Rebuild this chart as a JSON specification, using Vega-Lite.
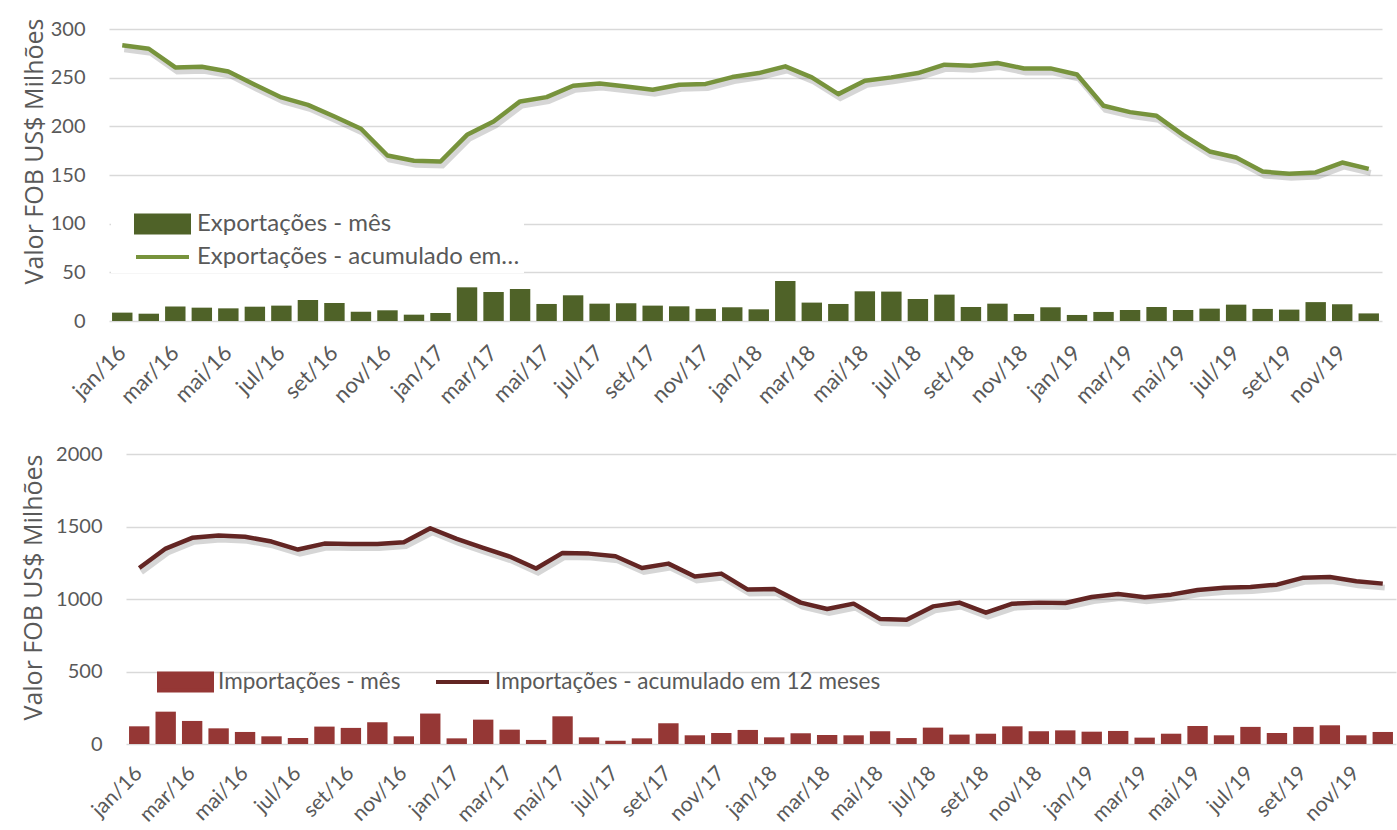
{
  "$schema": "https://vega.github.io/schema/vega-lite/v6.json",
  "padding": {"left": 21, "top": 14, "right": 0, "bottom": 0},
  "background": "white",
  "config": {
    "view": {"stroke": null},
    "font": "Lato",
    "axis": {"labelColor": "#595959", "titleColor": "#595959", "labelFont": "Lato", "labelFontSize": 20, "gridColor": "#d9d9d9", "gridWidth": 1.5, "domain": false, "ticks": false},
    "legend": {"labelFont": "Lato", "labelColor": "#595959"}
  },
  "data": {"values": [
    {"mes": "jan/16", "exp_mes": 8.6, "exp_acum": 283.2, "imp_mes": 122, "imp_acum": 1214},
    {"mes": "fev/16", "exp_mes": 7.5, "exp_acum": 279.7, "imp_mes": 223, "imp_acum": 1348},
    {"mes": "mar/16", "exp_mes": 15, "exp_acum": 260.5, "imp_mes": 159, "imp_acum": 1422},
    {"mes": "abr/16", "exp_mes": 13.7, "exp_acum": 261.2, "imp_mes": 108, "imp_acum": 1438},
    {"mes": "mai/16", "exp_mes": 13, "exp_acum": 256.4, "imp_mes": 83, "imp_acum": 1429},
    {"mes": "jun/16", "exp_mes": 14.7, "exp_acum": 242.7, "imp_mes": 53, "imp_acum": 1396},
    {"mes": "jul/16", "exp_mes": 15.8, "exp_acum": 229.7, "imp_mes": 41, "imp_acum": 1341},
    {"mes": "ago/16", "exp_mes": 21.6, "exp_acum": 222.1, "imp_mes": 120, "imp_acum": 1382},
    {"mes": "set/16", "exp_mes": 18.5, "exp_acum": 210.1, "imp_mes": 111, "imp_acum": 1380},
    {"mes": "out/16", "exp_mes": 9.6, "exp_acum": 197.5, "imp_mes": 150, "imp_acum": 1380},
    {"mes": "nov/16", "exp_mes": 11, "exp_acum": 170, "imp_mes": 53, "imp_acum": 1392},
    {"mes": "dez/16", "exp_mes": 6.5, "exp_acum": 164.6, "imp_mes": 210, "imp_acum": 1488},
    {"mes": "jan/17", "exp_mes": 8.2, "exp_acum": 163.9, "imp_mes": 39, "imp_acum": 1415},
    {"mes": "fev/17", "exp_mes": 34.6, "exp_acum": 191.3, "imp_mes": 168, "imp_acum": 1353},
    {"mes": "mar/17", "exp_mes": 29.8, "exp_acum": 205, "imp_mes": 99, "imp_acum": 1293},
    {"mes": "abr/17", "exp_mes": 32.9, "exp_acum": 225.6, "imp_mes": 28, "imp_acum": 1210},
    {"mes": "mai/17", "exp_mes": 17.5, "exp_acum": 230, "imp_mes": 191, "imp_acum": 1318},
    {"mes": "jun/17", "exp_mes": 26.4, "exp_acum": 241.7, "imp_mes": 46, "imp_acum": 1313},
    {"mes": "jul/17", "exp_mes": 17.8, "exp_acum": 244, "imp_mes": 23, "imp_acum": 1295},
    {"mes": "ago/17", "exp_mes": 18.2, "exp_acum": 241, "imp_mes": 39, "imp_acum": 1214},
    {"mes": "set/17", "exp_mes": 15.8, "exp_acum": 237.6, "imp_mes": 143, "imp_acum": 1244},
    {"mes": "out/17", "exp_mes": 15.1, "exp_acum": 242.7, "imp_mes": 60, "imp_acum": 1155},
    {"mes": "nov/17", "exp_mes": 12.5, "exp_acum": 243.6, "imp_mes": 76, "imp_acum": 1175},
    {"mes": "dez/17", "exp_mes": 14.1, "exp_acum": 250.6, "imp_mes": 97, "imp_acum": 1065},
    {"mes": "jan/18", "exp_mes": 12, "exp_acum": 254.7, "imp_mes": 46, "imp_acum": 1069},
    {"mes": "fev/18", "exp_mes": 41.1, "exp_acum": 261.6, "imp_mes": 74, "imp_acum": 975},
    {"mes": "mar/18", "exp_mes": 18.9, "exp_acum": 250.3, "imp_mes": 62, "imp_acum": 931},
    {"mes": "abr/18", "exp_mes": 17.5, "exp_acum": 233.1, "imp_mes": 60, "imp_acum": 968},
    {"mes": "mai/18", "exp_mes": 30.5, "exp_acum": 246.8, "imp_mes": 88, "imp_acum": 862},
    {"mes": "jun/18", "exp_mes": 30.2, "exp_acum": 250.3, "imp_mes": 41, "imp_acum": 857},
    {"mes": "jul/18", "exp_mes": 22.6, "exp_acum": 254.7, "imp_mes": 113, "imp_acum": 949},
    {"mes": "ago/18", "exp_mes": 27.1, "exp_acum": 263.3, "imp_mes": 65, "imp_acum": 975},
    {"mes": "set/18", "exp_mes": 14.4, "exp_acum": 262.3, "imp_mes": 71, "imp_acum": 906},
    {"mes": "out/18", "exp_mes": 17.8, "exp_acum": 265, "imp_mes": 122, "imp_acum": 968},
    {"mes": "nov/18", "exp_mes": 7.2, "exp_acum": 259.5, "imp_mes": 88, "imp_acum": 975},
    {"mes": "dez/18", "exp_mes": 14.1, "exp_acum": 259.5, "imp_mes": 94, "imp_acum": 972},
    {"mes": "jan/19", "exp_mes": 6.2, "exp_acum": 253.3, "imp_mes": 85, "imp_acum": 1014},
    {"mes": "fev/19", "exp_mes": 9.3, "exp_acum": 221.1, "imp_mes": 90, "imp_acum": 1035},
    {"mes": "mar/19", "exp_mes": 11.3, "exp_acum": 214.6, "imp_mes": 44, "imp_acum": 1012},
    {"mes": "abr/19", "exp_mes": 14.4, "exp_acum": 210.8, "imp_mes": 71, "imp_acum": 1030},
    {"mes": "mai/19", "exp_mes": 11.3, "exp_acum": 191.3, "imp_mes": 124, "imp_acum": 1062},
    {"mes": "jun/19", "exp_mes": 12.7, "exp_acum": 174.2, "imp_mes": 60, "imp_acum": 1078},
    {"mes": "jul/19", "exp_mes": 16.8, "exp_acum": 168, "imp_mes": 118, "imp_acum": 1083},
    {"mes": "ago/19", "exp_mes": 12.4, "exp_acum": 153.6, "imp_mes": 76, "imp_acum": 1099},
    {"mes": "set/19", "exp_mes": 11.7, "exp_acum": 151.2, "imp_mes": 118, "imp_acum": 1147},
    {"mes": "out/19", "exp_mes": 19.4, "exp_acum": 152.6, "imp_mes": 129, "imp_acum": 1152},
    {"mes": "nov/19", "exp_mes": 17.2, "exp_acum": 162.8, "imp_mes": 60, "imp_acum": 1122},
    {"mes": "dez/19", "exp_mes": 7.8, "exp_acum": 156.3, "imp_mes": 83, "imp_acum": 1106}
  ]},
  "columns": 1,
  "spacing": 133,
  "bounds": "flush",
  "resolve": {"scale": {"x": "independent", "y": "independent", "color": "independent"}, "legend": {"color": "independent"}},
  "concat": [
    {
      "width": 1273,
      "height": 292,
      "layer": [
        {
          "mark": {"type": "line", "color": "#000000", "opacity": 0.16, "strokeWidth": 6, "xOffset": 2, "yOffset": 4},
          "encoding": {
            "x": {"field": "mes", "type": "nominal", "sort": null},
            "y": {"field": "exp_acum", "type": "quantitative"}
          }
        },
        {
          "mark": {"type": "line", "strokeWidth": 4.5, "strokeJoin": "round"},
          "encoding": {
            "x": {"field": "mes", "type": "nominal", "sort": null},
            "y": {"field": "exp_acum", "type": "quantitative"},
            "color": {"datum": "Exportações - acumulado em 12 meses"}
          }
        },
        {
          "mark": {"type": "bar"},
          "encoding": {
            "x": {
              "field": "mes", "type": "nominal", "sort": null,
              "scale": {"paddingInner": 0.23, "paddingOuter": 0.115},
              "axis": {
                "title": null,
                "values": ["jan/16","mar/16","mai/16","jul/16","set/16","nov/16","jan/17","mar/17","mai/17","jul/17","set/17","nov/17","jan/18","mar/18","mai/18","jul/18","set/18","nov/18","jan/19","mar/19","mai/19","jul/19","set/19","nov/19"],
                "labelAngle": -45, "labelAlign": "right", "labelBaseline": "middle", "labelPadding": 28, "labelFontSize": 22, "grid": false
              }
            },
            "y": {
              "field": "exp_mes", "type": "quantitative",
              "scale": {"domain": [0, 300], "nice": false},
              "axis": {
                "title": "Valor FOB US$  Milhões", "titleFont": "Open Sans", "titleFontSize": 25, "titleFontWeight": "normal",
                "values": [0, 50, 100, 150, 200, 250, 300],
                "labelPadding": 24, "titlePadding": 3, "titleY": 122, "grid": true
              }
            },
            "color": {
              "datum": "Exportações - mês",
              "scale": {"domain": ["Exportações - mês", "Exportações - acumulado em 12 meses"], "range": ["#4f6228", "#77933c"]},
              "legend": {
                "title": null, "orient": "none", "legendX": 2, "legendY": 179, "direction": "vertical",
                "fillColor": "white", "padding": 4, "symbolOffset": 19, "clipHeight": 24,
                "labelFontSize": 24, "labelLimit": 325, "labelOffset": 6, "rowPadding": 9,
                "symbolSize": 2809, "symbolStrokeWidth": 4,
                "encode": {"symbols": {"update": {
                  "shape": {"signal": "datum.value === 'Exportações - mês' ? 'M-1,-0.32H1V0.32H-1Z' : 'stroke'"},
                  "fill": {"signal": "datum.value === 'Exportações - mês' ? '#4f6228' : 'transparent'"},
                  "stroke": {"signal": "datum.value === 'Exportações - mês' ? 'transparent' : '#77933c'"},
                  "strokeWidth": {"value": 4},
                  "opacity": {"value": 1}
                }}}
              }
            }
          }
        }
      ]
    },
    {
      "width": 1287,
      "height": 290,
      "layer": [
        {
          "mark": {"type": "line", "color": "#000000", "opacity": 0.16, "strokeWidth": 6, "xOffset": 2, "yOffset": 4},
          "encoding": {
            "x": {"field": "mes", "type": "nominal", "sort": null},
            "y": {"field": "imp_acum", "type": "quantitative"}
          }
        },
        {
          "mark": {"type": "line", "strokeWidth": 4.5, "strokeJoin": "round"},
          "encoding": {
            "x": {"field": "mes", "type": "nominal", "sort": null},
            "y": {"field": "imp_acum", "type": "quantitative"},
            "color": {"datum": "Importações - acumulado em 12 meses"}
          }
        },
        {
          "mark": {"type": "bar"},
          "encoding": {
            "x": {
              "field": "mes", "type": "nominal", "sort": null,
              "scale": {"paddingInner": 0.23, "paddingOuter": 0.115, "range": [17, 1287]},
              "axis": {
                "title": null,
                "values": ["jan/16","mar/16","mai/16","jul/16","set/16","nov/16","jan/17","mar/17","mai/17","jul/17","set/17","nov/17","jan/18","mar/18","mai/18","jul/18","set/18","nov/18","jan/19","mar/19","mai/19","jul/19","set/19","nov/19"],
                "labelAngle": -45, "labelAlign": "right", "labelBaseline": "middle", "labelPadding": 26, "labelFontSize": 21, "grid": false
              }
            },
            "y": {
              "field": "imp_mes", "type": "quantitative",
              "scale": {"domain": [0, 2000], "nice": false},
              "axis": {
                "title": "Valor FOB US$ Milhões", "titleFont": "Open Sans", "titleFontSize": 25, "titleFontWeight": "normal",
                "values": [0, 500, 1000, 1500, 2000], "format": "d",
                "labelPadding": 24, "titlePadding": 9, "titleY": 133, "offset": -17, "grid": true
              }
            },
            "color": {
              "datum": "Importações - mês",
              "scale": {"domain": ["Importações - mês", "Importações - acumulado em 12 meses"], "range": ["#953735", "#632523"]},
              "legend": {
                "title": null, "orient": "none", "legendX": 48, "legendY": 216, "direction": "horizontal",
                "padding": 0, "clipHeight": 24, "columnPadding": 33,
                "labelFontSize": 22.5, "labelLimit": 600, "labelOffset": 4,
                "symbolSize": 2809, "symbolStrokeWidth": 4,
                "encode": {"symbols": {"update": {
                  "shape": {"signal": "datum.value === 'Importações - mês' ? 'M-1,-0.32H1V0.32H-1Z' : 'stroke'"},
                  "fill": {"signal": "datum.value === 'Importações - mês' ? '#953735' : 'transparent'"},
                  "stroke": {"signal": "datum.value === 'Importações - mês' ? 'transparent' : '#632523'"},
                  "strokeWidth": {"value": 4},
                  "opacity": {"value": 1}
                }}}
              }
            }
          }
        }
      ]
    }
  ]
}
